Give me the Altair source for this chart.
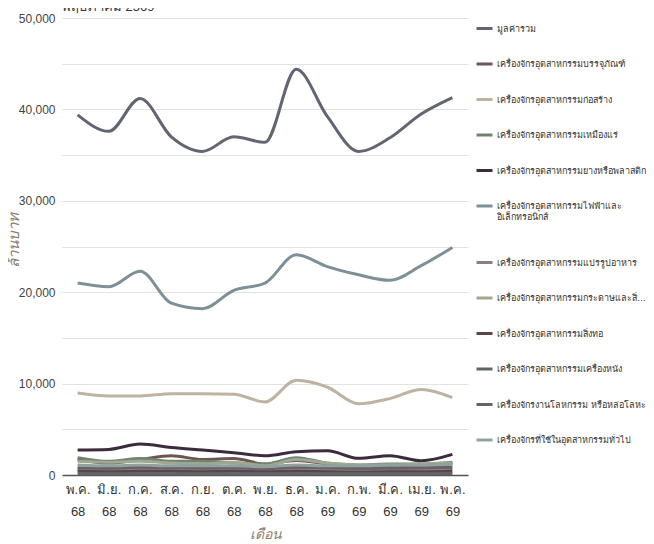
import altair as alt
import pandas as pd

months = ["พ.ค. 68", "มิ.ย. 68", "ก.ค. 68", "ส.ค. 68", "ก.ย. 68", "ต.ค. 68", "พ.ย. 68",
          "ธ.ค. 68", "ม.ค. 69", "ก.พ. 69", "มี.ค. 69", "เม.ย. 69", "พ.ค. 69"]

series_names = [
    "มูลค่ารวม",
    "เครื่องจักรอุตสาหกรรมบรรจุภัณฑ์",
    "เครื่องจักรอุตสาหกรรมก่อสร้าง",
    "เครื่องจักรอุตสาหกรรมเหมืองแร่",
    "เครื่องจักรอุตสาหกรรมยางหรือพลาสติก",
    "เครื่องจักรอุตสาหกรรมไฟฟ้าและอิเล็กทรอนิกส์",
    "เครื่องจักรอุตสาหกรรมแปรรูปอาหาร",
    "เครื่องจักรอุตสาหกรรมกระดาษและสิ่งพิมพ์",
    "เครื่องจักรอุตสาหกรรมสิ่งทอ",
    "เครื่องจักรอุตสาหกรรมเครื่องหนัง",
    "เครื่องจักรงานโลหกรรม หรือหล่อโลหะ",
    "เครื่องจักรที่ใช้ในอุตสาหกรรมทั่วไป",
]
wrapped_name = "เครื่องจักรอุตสาหกรรมไฟฟ้าและอิเล็กทรอนิกส์"
wrapped_lines = ["เครื่องจักรอุตสาหกรรมไฟฟ้าและ", "อิเล็กทรอนิกส์"]

colors = ["#626573", "#6e554f", "#bdb3a0", "#6f8571", "#3a2b3d", "#7d9098",
          "#8c7d82", "#9ea893", "#5c4447", "#5e6567", "#69606e", "#8fa39b"]

total = [39400, 37600, 41200, 37000, 35400, 37000, 36400, 44400, 39200, 35400, 36900, 39500, 41300]
packaging = [1700, 1300, 1700, 2100, 1700, 1800, 1200, 1600, 1200, 1000, 1000, 1100, 1200]
construction = [8980, 8650, 8650, 8900, 8900, 8840, 8000, 10360, 9600, 7800, 8360, 9350, 8470]
mining = [1900, 1500, 1800, 1500, 1500, 1300, 1200, 1900, 1300, 1100, 1200, 1200, 1400]
plastic = [2730, 2800, 3380, 3020, 2730, 2440, 2110, 2550, 2650, 1820, 2110, 1560, 2250]
electrical = [21000, 20600, 22300, 18800, 18200, 20200, 21000, 24100, 22800, 21900, 21300, 22900, 24900]
food = [600, 550, 600, 650, 600, 550, 500, 650, 600, 500, 550, 600, 650]
paper = [1500, 1400, 1500, 1300, 1200, 1400, 1000, 1700, 1300, 1100, 1100, 1200, 1300]
textile = [400, 350, 400, 400, 350, 400, 350, 400, 350, 300, 350, 350, 400]
leather = [150, 140, 160, 150, 140, 150, 130, 160, 150, 130, 140, 150, 160]
metal = [800, 750, 850, 800, 750, 800, 700, 850, 800, 700, 750, 800, 850]
general = [1100, 1000, 1100, 1000, 1000, 1000, 900, 1100, 1000, 1000, 1100, 1100, 1200]

all_values = [total, packaging, construction, mining, plastic, electrical,
              food, paper, textile, leather, metal, general]

rows = []
for name, vals in zip(series_names, all_values):
    for m, v in zip(months, vals):
        rows.append({"month": m, "series": name, "value": v})
df = pd.DataFrame(rows)

FONT = "Liberation Sans"
title_color = "#8a7e70"

label_expr = (f"datum.label == '{wrapped_name}' ? "
              f"['{wrapped_lines[0]}', '\u00a0', '{wrapped_lines[1]}'] : datum.label")

chart = alt.Chart(df).mark_line(strokeWidth=3, interpolate="monotone").encode(
    x=alt.X("month:N", sort=months,
            scale=alt.Scale(padding=0.5),
            axis=alt.Axis(title="เดือน", labelAngle=0,
                          labelExpr="split(datum.label, ' ')",
                          labelFontSize=13, labelLineHeight=22, labelColor="#333333",
                          labelPadding=8, ticks=False, grid=False,
                          domainColor="#555555", domainWidth=1.5,
                          titleFontSize=14, titleFontStyle="italic", titleFontWeight="normal",
                          titleColor=title_color, titlePadding=9)),
    y=alt.Y("value:Q", scale=alt.Scale(domain=[0, 50000], nice=False),
            axis=alt.Axis(title="ล้านบาท",
                          values=list(range(0, 50001, 5000)),
                          labelExpr="datum.value % 10000 == 0 ? format(datum.value, ',') : ''",
                          labelFontSize=12, labelColor="#444444", labelPadding=7,
                          ticks=False, domain=False, gridColor="#e2e2e2", gridWidth=1,
                          titleFontSize=15, titleFontStyle="italic", titleFontWeight="normal",
                          titleColor=title_color, titleX=-41, titleY=222)),
    color=alt.Color("series:N", sort=series_names,
                    scale=alt.Scale(domain=series_names, range=colors),
                    legend=alt.Legend(title=None, orient="right", offset=6,
                                      symbolType="stroke", symbolStrokeWidth=3,
                                      symbolSize=256, labelFontSize=9,
                                      labelLimit=153, labelOffset=3, labelColor="#333333",
                                      rowPadding=19.5, padding=1,
                                      labelExpr=label_expr)),
).properties(
    width=406, height=457,
    autosize=alt.AutoSizeParams(type="none"),
    padding={"left": 54, "top": 10, "right": 178, "bottom": 68},
    title=alt.TitleParams("พฤษภาคม 2569", anchor="start", frame="group", fontSize=13,
                          fontWeight="normal", color="#333333", offset=-2, font=FONT),
).configure(font=FONT).configure_view(stroke=None)

chart.save("out.html", embed_options={"renderer": "svg", "actions": False})
